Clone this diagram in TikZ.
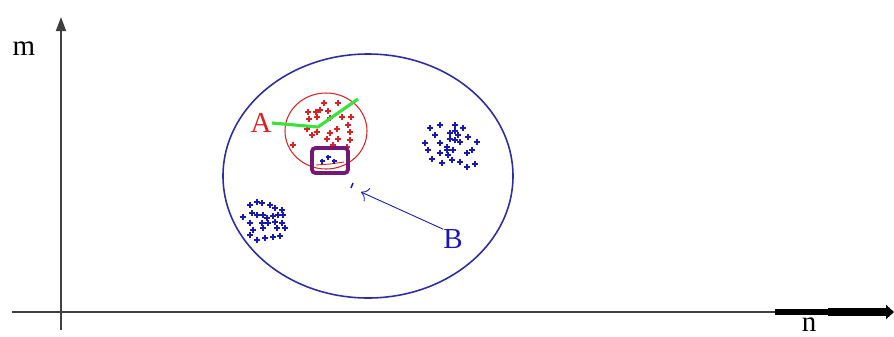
\documentclass[tikz,border=0pt]{standalone}
\usepackage{fontspec}
\setmainfont{Liberation Serif}
\usetikzlibrary{arrows.meta}

\definecolor{ptblue}{RGB}{25,25,175}
\definecolor{ringblue}{RGB}{45,45,160}
\definecolor{ptred}{RGB}{215,35,35}
\definecolor{boxpurple}{RGB}{115,25,115}
\definecolor{linegreen}{RGB}{60,225,60}

\begin{document}
\begin{tikzpicture}[
    x=0.02cm, y=-0.02cm,
    >={Triangle[length=0.28cm, width=0.2cm]},
    axis/.style={draw=black!75, line width=1pt},
    bluept/.style={draw=ptblue, line width=1pt},
    redpt/.style={draw=ptred, line width=0.9pt},
    lbl/.style={font=\fontsize{16.5}{18}\selectfont, inner sep=0pt}
]

\useasboundingbox (0,0) rectangle (894,336);

% Coordinate axes
\coordinate (ybot) at (61,330);
\coordinate (ytop) at (61,17);
\coordinate (xleft) at (12,312);
\coordinate (xthick) at (775,312);
\coordinate (xmid) at (828,312);
\coordinate (xright) at (894,312);
\draw[axis, ->] (ybot) -- (ytop);
\draw[axis] (xleft) -- (xthick);
\draw[line width=3pt] (xthick) -- (xmid);
\draw[line width=4.2pt, -{Triangle[length=0.16cm, width=0.28cm]}] (xmid) -- (xright);
\node[lbl] (m) at (24,49) {m};
\node[lbl] (n) at (809,325) {n};

% Outer region and cluster A
\draw[ringblue, line width=0.9pt] (368,176) ellipse (145 and 122);
\draw[ptred, line width=0.6pt] (326,131) ellipse (41 and 38);

% Clusters of points
\foreach \x/\y in {308/112, 324/103, 338/103, 316/112, 320/110, 328/111, 309/119,
                   317/117, 330/118, 342/117, 351/117, 348/125, 307/129, 317/132,
                   330/133, 337/129, 327/139, 338/139, 350/132, 350/140, 312/135,
                   293/145, 333/145, 347/147}
    \draw[redpt] (\x-3,\y) -- (\x+3,\y) (\x,\y-3) -- (\x,\y+3);

\foreach \x/\y in {430/128, 440/125, 455/125, 463/128, 435/135, 450/133, 455/131,
                   458/135, 468/137, 425/143, 440/143, 450/139, 460/142, 477/142,
                   428/150, 440/153, 447/150, 453/150, 467/153, 472/150, 432/159,
                   442/163, 448/155, 452/160, 460/162, 467/167, 475/164, 455/140,
                   447/147}
    \draw[bluept] (\x-3,\y) -- (\x+3,\y) (\x,\y-3) -- (\x,\y+3);

\foreach \x/\y in {250/205, 257/202, 262/203, 270/205, 275/208, 282/210, 243/217,
                   252/213, 257/215, 263/215, 267/218, 273/216, 278/215, 283/215,
                   250/223, 262/223, 268/223, 275/222, 282/223, 285/228, 253/230,
                   263/228, 277/228, 250/235, 265/238, 273/237, 280/236, 257/240}
    \draw[bluept] (\x-3,\y) -- (\x+3,\y) (\x,\y-3) -- (\x,\y+3);

% Small group in the box
\draw[ptred, line width=0.5pt] (316,165) -- (330,164) -- (344,162);
\foreach \x/\y in {322/161, 328/157, 334/161}
    \draw[bluept] (\x-2.5,\y) -- (\x+2.5,\y) (\x,\y-2.5) -- (\x,\y+2.5);
\draw[boxpurple, line width=2.2pt, rounded corners=2pt] (312,148) rectangle (348,173);

% Label A with its green line
\node[lbl, text=ptred] (A) at (261,123) {A};
\coordinate (vtx) at (318,127);
\coordinate (gtip) at (358,99);
\draw[linegreen, line width=1.8pt, line join=round] (A.east) -- (vtx) -- (gtip);

% Single point B
\coordinate (Bpt) at (352,185);
\draw[ptblue, line width=0.8pt] (351,188) -- (353,183);
\coordinate (Btip) at (361,192);
\node[lbl, text=ptblue] (B) at (453,239) {B};
\draw[ptblue, line width=0.5pt, -{To[length=0.14cm]}] (B.north west) -- (Btip);

\end{tikzpicture}
\end{document}
